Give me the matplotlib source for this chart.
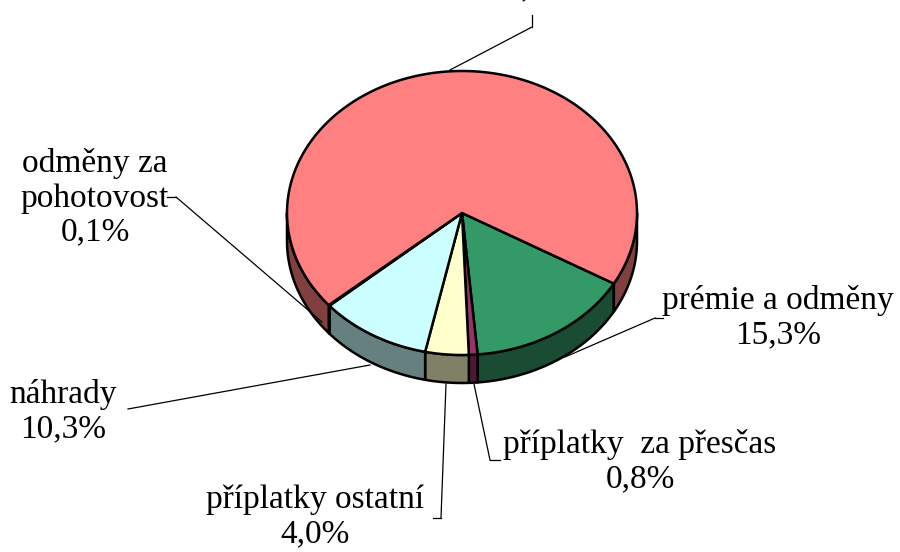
import numpy as np
import matplotlib.pyplot as plt
from matplotlib.patches import Polygon

plt.rcParams['font.family'] = ['Liberation Serif', 'DejaVu Serif']

# data
labels = ['prémie a odměny', 'příplatky  za přesčas', 'příplatky ostatní',
          'náhrady', 'odměny za\npohotovost', 'tarifní mzda']
values = [15.3, 0.8, 4.0, 10.3, 0.1, 69.5]
pct_text = ['15,3%', '0,8%', '4,0%', '10,3%', '0,1%', '69,5%']
top_colors = ['#339966', '#993366', '#FFFFCC', '#CCFFFF', '#660066', '#FF8080']
side_colors = ['#1A4C33', '#4C1933', '#808066', '#668080', '#330033', '#804040']

# geometry of the 3d pie (pixel coordinates)
cx, cy = 462, 213
a, b = 175, 142
depth = 28
start = -29.8

fig = plt.figure(figsize=(9, 5.52), dpi=100)
ax = fig.add_axes([0, 0, 1, 1])
ax.set_xlim(0, 900)
ax.set_ylim(552, 0)
ax.axis('off')


def arc(t1, t2, dy=0, n=80):
    t = np.radians(np.linspace(t1, t2, n))
    return np.column_stack([cx + a * np.cos(t), cy - b * np.sin(t) + dy])


angles = []
t = start
for v in values:
    t2 = t - v / sum(values) * 360
    angles.append((t, t2))
    t = t2

# side faces
for (t1, t2), sc in zip(angles, side_colors):
    for k in [0, -360]:
        hi = min(t1, 0 + k)
        lo = max(t2, -180 + k)
        if hi > lo:
            top = arc(hi, lo)
            bot = arc(lo, hi, dy=depth)
            ax.add_patch(Polygon(np.vstack([top, bot]), closed=True,
                                 facecolor=sc, edgecolor='black', lw=1.8,
                                 joinstyle='round'))

# top faces
for (t1, t2), tc in zip(angles, top_colors):
    pts = np.vstack([[cx, cy], arc(t1, t2, n=200)])
    ax.add_patch(Polygon(pts, closed=True, facecolor=tc, edgecolor='black',
                         lw=1.8, joinstyle='round'))

fs = 24
lk = dict(color='black', lw=0.9)

# labels with leader lines
ax.text(778, 318, labels[0] + '\n' + pct_text[0], fontsize=fs, ha='center',
        va='center', linespacing=1.15)
ax.plot([655, 663], [318, 318], **lk)
ax.plot([655, 565], [318, 357], **lk)

ax.text(640, 462, labels[1] + '\n' + pct_text[1], fontsize=fs, ha='center',
        va='center', linespacing=1.15)
ax.plot([490, 500], [460, 460], **lk)
ax.plot([490, 474], [460, 384], **lk)

ax.text(315, 517, labels[2] + '\n' + pct_text[2], fontsize=fs, ha='center',
        va='center', linespacing=1.15)
ax.plot([433, 441], [518, 518], **lk)
ax.plot([441, 446], [518, 384], **lk)

ax.text(63, 412, labels[3] + '\n' + pct_text[3], fontsize=fs, ha='center',
        va='center', linespacing=1.15)
ax.plot([128, 370], [409, 365], **lk)

ax.text(95, 198, labels[4] + '\n' + pct_text[4], fontsize=fs, ha='center',
        va='center', linespacing=1.15)
ax.plot([167, 176], [197, 197], **lk)
ax.plot([176, 322], [197, 322], **lk)

# top label lies mostly above the picture, only the comma tail is visible
ax.text(532, -4, labels[5] + '\n' + pct_text[5], fontsize=fs, ha='center',
        va='baseline', linespacing=1.15)
ax.plot([532, 532], [15, 27], **lk)
ax.plot([532, 450], [27, 70], **lk)

fig.savefig('out.png', dpi=100)
